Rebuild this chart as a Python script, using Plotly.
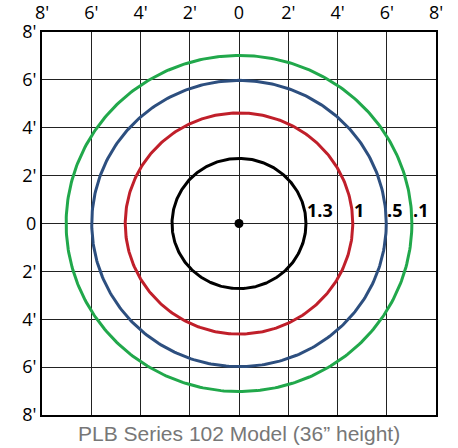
import numpy as np
import plotly.graph_objects as go

tick_vals = [-8, -6, -4, -2, 0, 2, 4, 6, 8]
x_tick_text = ["8'", "6'", "4'", "2'", "0", "2'", "4'", "6'", "8'"]
y_tick_text = ["8'", "6'", "4'", "2'", "0", "2'", "4'", "6'", "8'"]

levels = ["1.3", "1", ".5", ".1"]
radii = [2.72, 4.62, 5.98, 7.02]
colors = ["#000000", "#c01f2a", "#2d4f7f", "#21a84b"]

title_text = "PLB Series 102 Model (36\u201d height)"

fig = go.Figure()
theta = np.linspace(0, 2 * np.pi, 361)
for lvl, r, c in zip(levels, radii, colors):
    fig.add_trace(go.Scatter(x=r * np.cos(theta), y=r * np.sin(theta), mode="lines",
                             line=dict(color=c, width=3), hoverinfo="skip", showlegend=False))
    fig.add_annotation(x=r, y=0.55, text="<b>" + lvl + "</b>", showarrow=False,
                       xanchor="left", yanchor="middle", xshift=-1,
                       font=dict(family="Open Sans", size=18, color="#000"))

fig.add_trace(go.Scatter(x=[0], y=[0], mode="markers", marker=dict(color="#000", size=9),
                         showlegend=False, hoverinfo="skip"))

axis_common = dict(range=[-8, 8], tickvals=tick_vals, showgrid=True, gridcolor="#222",
                   gridwidth=1, zeroline=False, showline=True, linecolor="#000", linewidth=2,
                   mirror=True, ticks="", automargin=False,
                   tickfont=dict(family="Open Sans", size=18, color="#000"))

fig.update_xaxes(**axis_common, ticktext=x_tick_text, side="top", ticklabelstandoff=4)
fig.update_yaxes(**axis_common, ticktext=y_tick_text)

fig.add_annotation(x=0.5, y=-0.012, xref="paper", yref="paper", text=title_text,
                   showarrow=False, xanchor="center", yanchor="top",
                   font=dict(family="Liberation Sans", size=21, color="#777"))

fig.update_layout(width=458, height=448, margin=dict(l=42, r=22, t=32, b=33),
                  plot_bgcolor="white", paper_bgcolor="white")

fig.write_html("out.html", config={"displayModeBar": False},
               post_script="document.body.style.margin='0px';")
